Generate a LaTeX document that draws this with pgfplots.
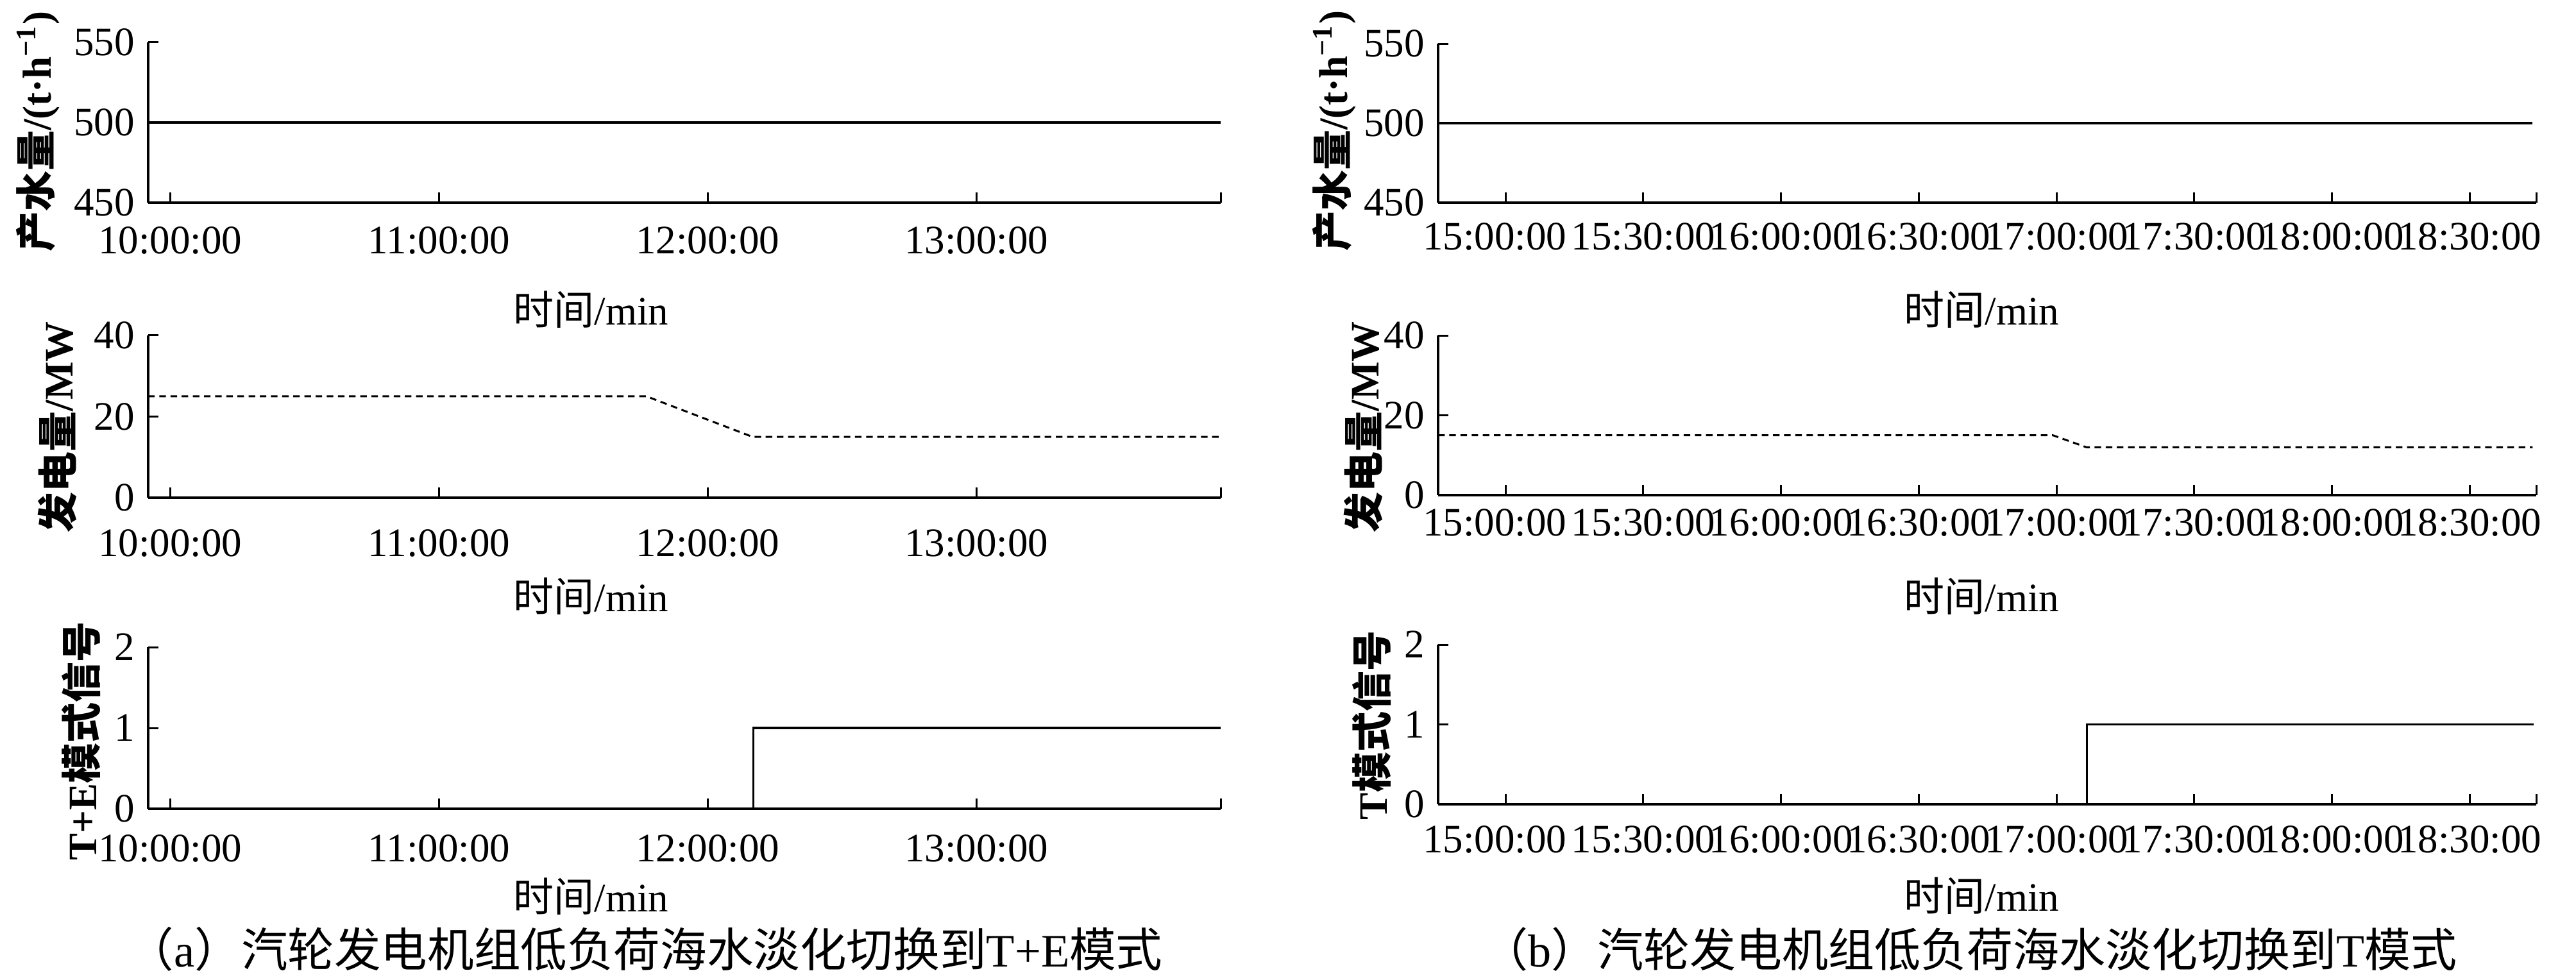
\documentclass[border=0pt]{standalone}
\usepackage{fontspec}
\setmainfont{Liberation Serif}
\newfontfamily\cjk{Noto Sans CJK SC}
\usepackage{pgfplots}
\pgfplotsset{compat=1.18}

\pgfplotsset{
  base/.style={
    scale only axis, anchor=south west,
    axis lines*=left,
    axis line style={line width=0.55pt, black},
    every tick/.style={line width=0.5pt, black},
    tick align=inside, major tick length=2.6pt,
    ticklabel style={font=\fontsize{10.5}{12}\selectfont},
    /pgf/number format/assume math mode=true,
    ylabel style={font=\fontsize{10.5}{12}\selectfont\bfseries, anchor=center},
    xlabel style={font=\fontsize{10.5}{12}\selectfont},
    clip=false,
  },
  lefttime/.style={
    width=278.67pt, xmin=-4.9, xmax=234.5,
    xtick={0,60,120,180},
    xticklabels={10:00:00,11:00:00,12:00:00,13:00:00},
    extra x ticks={234.5}, extra x tick labels={},
    xlabel={{\cjk 时间}/min},
  },
  righttime/.style={
    width=285.33pt, xmin=-14.7, xmax=224.5,
    xtick={0,30,60,90,120,150,180,210},
    xticklabels={15:00:00\hspace*{5.6pt},15:30:00,16:00:00,16:30:00,17:00:00,17:30:00,18:00:00,18:30:00},
    extra x ticks={224.5}, extra x tick labels={},
    xlabel={{\cjk 时间}/min},
  },
  water/.style={ymin=450, ymax=550, ytick={450,500,550},
    ylabel={{\cjk 产水量}/(t·h\textsuperscript{−1})}},
  power/.style={ymin=0, ymax=40, ytick={0,20,40},
    ylabel={{\cjk 发电量}/MW}},
  sig/.style={ymin=0, ymax=2, ytick={0,1,2}},
  solid line/.style={black, line width=0.55pt},
  dash line/.style={black, line width=0.5pt, dash pattern=on 1.7pt off 1.2pt},
}

\begin{document}
\begin{tikzpicture}
\useasboundingbox (0,0) rectangle (669.33pt,254.5pt);

% ---------- (a) ----------
\begin{axis}[base, lefttime, water, at={(38.5pt,201.83pt)}, height=41.67pt,
  xticklabel style={yshift=-2.7pt},
  ylabel style={at={(axis description cs:-0.1029,0.444)}},
  xlabel style={at={(axis description cs:0.413,0)}, anchor=center, yshift=-27.8pt}]
\addplot[solid line] coordinates {(-4.9,500) (234.5,500)};
\end{axis}

\begin{axis}[base, lefttime, power, at={(38.5pt,125.17pt)}, height=42.17pt,
  xticklabel style={yshift=-4.7pt},
  ylabel style={at={(axis description cs:-0.0849,0.435)}},
  xlabel style={at={(axis description cs:0.413,0)}, anchor=center, yshift=-25.7pt}]
\addplot[dash line] coordinates {(-4.9,25) (106.3,25) (130.0,15) (234.5,15)};
\end{axis}

\begin{axis}[base, lefttime, sig, at={(38.5pt,44.33pt)}, height=42pt,
  ylabel={T+E{\cjk 模式信号}},
  xticklabel style={yshift=-3.2pt},
  ylabel style={at={(axis description cs:-0.0622,0.417)}},
  xlabel style={at={(axis description cs:0.413,0)}, anchor=center, yshift=-22.7pt}]
\addplot[solid line] coordinates {(-4.9,0) (130.2,0) (130.2,1) (234.5,1)};
\end{axis}

% ---------- (b) ----------
\begin{axis}[base, righttime, water, at={(373.67pt,201.83pt)}, height=41.33pt,
  xticklabel style={yshift=-1.8pt},
  ylabel style={at={(axis description cs:-0.0946,0.452)}},
  xlabel style={at={(axis description cs:0.495,0)}, anchor=center, yshift=-27.8pt}]
\addplot[solid line] coordinates {(-14.7,500) (223.7,500)};
\end{axis}

\begin{axis}[base, righttime, power, at={(373.67pt,125.83pt)}, height=41.5pt,
  xticklabel style={yshift=0pt},
  ylabel style={at={(axis description cs:-0.0683,0.426)}},
  xlabel style={at={(axis description cs:0.495,0)}, anchor=center, yshift=-26.3pt}]
\addplot[dash line] coordinates {(-14.7,15) (119.2,15) (126.5,12) (223.7,12)};
\end{axis}

\begin{axis}[base, righttime, sig, at={(373.67pt,45.5pt)}, height=41.5pt,
  ylabel={T{\cjk 模式信号}},
  xticklabel style={yshift=-2.0pt},
  ylabel style={at={(axis description cs:-0.0607,0.494)}},
  xlabel style={at={(axis description cs:0.495,0)}, anchor=center, yshift=-23.8pt}]
\addplot[solid line] coordinates {(-14.7,0) (126.6,0) (126.6,1) (224.0,1)};
\end{axis}

% captions
\node[font=\fontsize{12.1}{13}\selectfont] at (167.6pt,7.83pt)
  {{\cjk （}a{\cjk ）汽轮发电机组低负荷海水淡化切换到}T+E{\cjk 模式}};
\node[font=\fontsize{12.0}{13}\selectfont] at (511.75pt,7.83pt)
  {{\cjk （}b{\cjk ）汽轮发电机组低负荷海水淡化切换到}T{\cjk 模式}};
\end{tikzpicture}
\end{document}
